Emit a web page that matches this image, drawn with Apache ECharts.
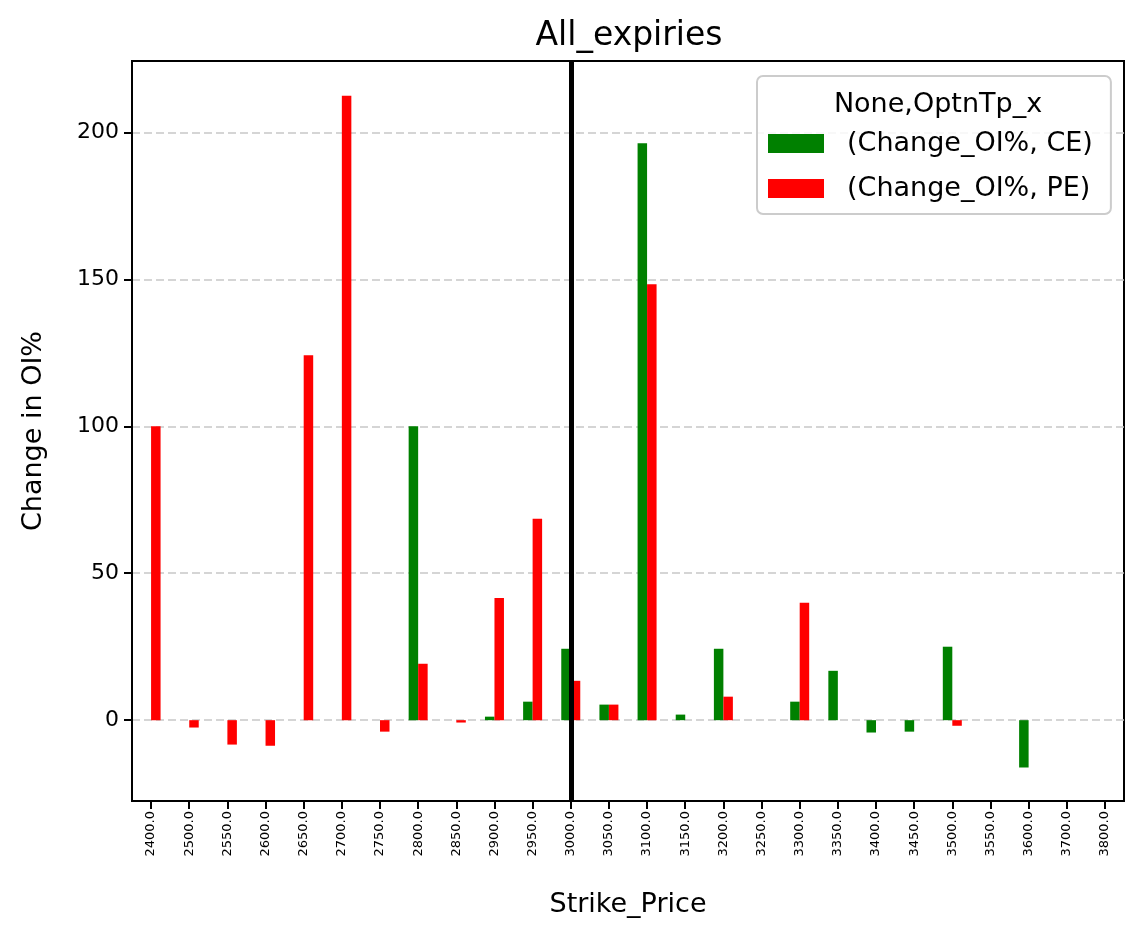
<!DOCTYPE html>
<html>
<head>
<meta charset="utf-8">
<title>All_expiries</title>
<script src="https://cdn.jsdelivr.net/npm/echarts@6/dist/echarts.min.js"></script>
<style>
  html, body { margin: 0; padding: 0; background: #fff; }
  #chart { width: 1143px; height: 939px; }
</style>
</head>
<body>
<div id="chart"></div>
<script>
// strike prices (x categories)
const strikes = ['2400.0', '2500.0', '2550.0', '2600.0', '2650.0', '2700.0', '2750.0', '2800.0',
  '2850.0', '2900.0', '2950.0', '3000.0', '3050.0', '3100.0', '3150.0', '3200.0', '3250.0',
  '3300.0', '3350.0', '3400.0', '3450.0', '3500.0', '3550.0', '3600.0', '3700.0', '3800.0']

// Change_OI% for calls (null = no bar)
const ceChange = [null, null, null, null, null, null, null, 100,
  null, 1.2, 6.3, 24.3, 5.3, 196.3, 1.9, 24.3, null,
  6.3, 16.8, -4.2, -3.9, 25.0, null, -16.1, null, null]

// Change_OI% for puts
const peChange = [100, -2.5, -8.3, -8.7, 124.2, 212.5, -3.9, 19.2,
  -0.8, 41.6, 68.5, 13.4, 5.3, 148.3, null, 8.0, null,
  40.0, null, null, null, -1.9, null, null, null, null]

const spotStrike = '3000.0'
const yTicks = [0, 50, 100, 150, 200]

const font = 'DejaVu Sans'
const chart = echarts.init(document.getElementById('chart'))

const option = {
  animation: false,
  textStyle: { fontFamily: font, color: '#000' },
  title: [
    {
      text: 'All_expiries',
      left: 624,
      textAlign: 'center',
      top: 15,
      textStyle: { fontFamily: font, fontSize: 33, fontWeight: 'normal', color: '#000' }
    },
    {
      text: 'None,OptnTp_x',
      left: 933,
      textAlign: 'center',
      top: 86,
      z: 10,
      textStyle: { fontFamily: font, fontSize: 27, fontWeight: 'normal', color: '#000' }
    }
  ],
  legend: {
    orient: 'vertical',
    left: 757,
    top: 76,
    padding: [54, 18, 12, 11],
    icon: 'rect',
    itemWidth: 56,
    itemHeight: 19,
    itemGap: 18,
    borderColor: '#cccccc',
    borderWidth: 2,
    borderRadius: 6,
    backgroundColor: 'rgba(255,255,255,0.85)',
    textStyle: { fontFamily: font, fontSize: 27, color: '#000', padding: [0, 0, 0, 18] },
    data: ['(Change_OI%, CE)', '(Change_OI%, PE)']
  },
  grid: {
    show: true,
    left: 132,
    right: 19,
    top: 61,
    bottom: 138,
    borderColor: '#000',
    borderWidth: 2,
    backgroundColor: 'transparent'
  },
  xAxis: {
    type: 'category',
    data: strikes,
    name: 'Strike_Price',
    nameLocation: 'middle',
    nameGap: 90,
    nameTextStyle: { fontFamily: font, fontSize: 27, color: '#000' },
    axisLine: { onZero: false, lineStyle: { color: '#000', width: 2 } },
    axisTick: { show: true, alignWithLabel: true, length: 8, lineStyle: { color: '#000', width: 2 } },
    axisLabel: { rotate: 90, fontSize: 13, margin: 10, color: '#000', fontFamily: font, interval: 0 },
    splitLine: { show: false }
  },
  yAxis: {
    type: 'value',
    min: -27.5,
    max: 224.3,
    splitNumber: 5,
    name: 'Change in OI%',
    nameLocation: 'middle',
    nameGap: 85,
    nameTextStyle: { fontFamily: font, fontSize: 27, color: '#000' },
    axisLine: { show: true, lineStyle: { color: '#000', width: 2 } },
    axisTick: { show: true, length: 8, customValues: yTicks, lineStyle: { color: '#000', width: 2 } },
    axisLabel: {
      fontSize: 22,
      margin: 13,
      color: '#000',
      fontFamily: font,
      customValues: yTicks
    },
    splitLine: {
      show: true,
      lineStyle: { color: '#c8c8c8', type: [8, 4], width: 1.5 }
    }
  },
  series: [
    {
      name: '(Change_OI%, CE)',
      type: 'bar',
      data: ceChange,
      barWidth: 9.5,
      barGap: '0%',
      itemStyle: { color: '#008000' }
    },
    {
      name: '(Change_OI%, PE)',
      type: 'bar',
      data: peChange,
      barWidth: 9.5,
      barGap: '0%',
      itemStyle: { color: '#ff0000' }
    },
    {
      // holder for the spot strike vertical line
      name: 'spot',
      type: 'line',
      data: [],
      z: 5,
      markLine: {
        silent: true,
        symbol: 'none',
        label: { show: false },
        lineStyle: { color: '#000', width: 5, type: 'solid' },
        data: [{ xAxis: spotStrike }]
      }
    }
  ]
}

chart.setOption(option)
</script>
</body>
</html>
